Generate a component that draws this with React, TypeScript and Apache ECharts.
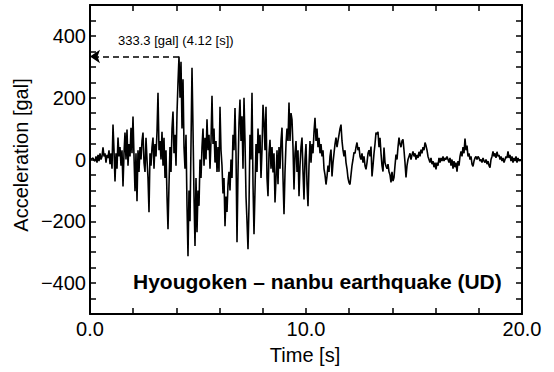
import React, { useEffect, useRef } from "react";
import * as echarts from "echarts";

// sampling interval of the digitised record (s)
const SAMPLE_DT = 1 / 21.6;

// UD acceleration record [gal], one sample per SAMPLE_DT starting at SAMPLE_DT
const accelOnset: number[] = [
  0, 3, 5, -3, -5, 10, -10, 15, -5, 20,
  0, 10, 39, 10, 20, -10, 15, 5, 30, -15,
  20, -30, 113, 30, -71, 20, -30, 71, 10, 40,
  -20, 30, -87, 20, 87, 0, 97, -20, 50, 10,
  103, 20, 139, 10, -103, 20, -135, 30, -40, 40,
  0, 60, 87, -10, -40, 70, 0, -60, -171, 20,
  -20, 40, 71, -30, 50, 10, 90, 216, 30, 60,
  0, 90, -20, 70, -60, 30, -120, -226, -80, 40,
];
const accelStrong: number[] = [
  -40, 100, 155, 20, 80, -20, 150, 250, 333.3, 200,
  316, 100, 260, 40, -30, 80, -150, -313, -100, -200,
  50, 297, 100, -120, -280, -60, -235, -100, -150, 0,
  -60, 40, 100, -20, 70, 0, 130, 30, 80, -30,
  60, 206, 50, 100, -10, 60, -40, 40, -40, 171,
  30, -20, -110, -60, -216, -120, -170, -80, -40, -100,
  0, -60, 80, 30, 167, 20, -268, -40, 120, 194,
  60, 140, -30, 200, 60, -120, -200, -290, -150, 80,
  0, 216, -80, -242, -100, 50, -40, 100, 20, 80,
  -60, 30, 177, 120, 30, 171, -60, -119, 20, 64,
  -30, 40, -42, 20, -139, -60, 30, -80, 40, -30,
  60, 103, -60, -177, -40, 50, 100, 60, 184, 60,
  150, 129, 40, -97, 20, 60, -40, 30, -119, -20,
  40, 71, -40, -129, 0, 50, -80, -151, -20, 60,
];
const accelLate: number[] = [
  -10, 50, 20, 90, 135, 60, 100, 40, 70, 20,
  50, 10, 30, -30, -50, -81, -55, -20, -40, 10,
  32, -55, -10, 20, 50, 71, 40, 60, 80, 100,
  113, 60, 30, 10, 30, -10, -30, -60, -75, -81,
  -50, -20, 0, 23, 20, 40, 55, 30, 40, 10,
  0, 20, -10, 10, -20, -32, -10, 20, 30, 10,
  42, -55, -20, 20, 50, 87, 81, 90, 40, 70,
  20, -20, -39, 39, -10, -22, -30, -15, -40, -50,
  -74, -40, -70, -58, -20, 16, 0, 40, 71, 50,
  40, 60, 65, 30, -10, -58, -20, 0, 10, 20,
];
const accelCoda: number[] = [
  0, 15, 26, 10, 20, 0, 15, 5, 25, 10,
  32, 20, 40, 30, 55, 45, 30, 10, 0, -10,
  5, -15, -5, -25, -10, -32, -10, -20, 5, -10,
  5, -5, 10, -5, 5, 0, 10, 0, -10, 5,
  -20, 0, -30, -5, -25, -10, -39, -5, -20, 10,
  26, 10, 40, 20, 68, 30, 45, 10, 20, 0,
  10, -15, -22, -5, 5, 10, 0, 10, 5, -5,
  0, -10, 5, -5, -10, 0, -15, -5, -20, -26,
  0, 10, 26, 10, 20, 5, 25, 10, 15, 0,
  10, -5, 5, -10, 0, 10, 5, 26, 5, 15,
  -5, 10, -10, 5, -5, 10, -10, 5, -5, 0, -5,
];

const peakTime = 4.12;
const peakAccel = 333.3;
const xLabeled = [0, 10, 20];
const yLabeled = [-400, -200, 0, 200, 400];
const titleText = "Hyougoken \u2013 nanbu earthquake (UD)";
const peakText = "333.3 [gal] (4.12 [s])";
const xName = "Time [s]";
const yName = "Acceleration [gal]";

export default function App() {
  const ref = useRef<HTMLDivElement>(null);
  useEffect(() => {
    const chart = echarts.init(ref.current!, null, { renderer: "svg" });
    const accel = [...accelOnset, ...accelStrong, ...accelLate, ...accelCoda];
    const data = accel.map((v, i) => [+((i + 1) * SAMPLE_DT).toFixed(4), v]);
    const font = "'Liberation Sans', Arial, Helvetica, sans-serif";
    const line = { show: true, onZero: false, lineStyle: { color: "#000", width: 2 } };
    const tick = { show: true, inside: true, length: 6, lineStyle: { color: "#000", width: 1.5 } };
    const xBase = { type: "value", min: 0, max: 20, interval: 2, axisLine: line, axisTick: tick, splitLine: { show: false } };
    const yBase = { type: "value", min: -500, max: 500, interval: 50, axisLine: line, axisTick: tick, splitLine: { show: false } };
    chart.setOption({
      animation: false,
      backgroundColor: "#fff",
      grid: { left: 90, right: 32, top: 5, bottom: 58 },
      xAxis: [
        {
          ...xBase,
          position: "bottom",
          axisLabel: {
            color: "#000",
            fontSize: 20,
            fontFamily: font,
            margin: 5,
            formatter: (v: number) => (xLabeled.includes(v) ? v.toFixed(1) : ""),
          },
        },
        { ...xBase, position: "top", axisLabel: { show: false } },
      ],
      yAxis: [
        {
          ...yBase,
          position: "left",
          axisLabel: {
            color: "#000",
            fontSize: 20,
            fontFamily: font,
            margin: 4,
            formatter: (v: number) =>
              yLabeled.includes(v) ? (v < 0 ? "\u2212" + Math.abs(v) : String(v)) : "",
          },
        },
        { ...yBase, position: "right", axisLabel: { show: false } },
      ],
      series: [
        {
          type: "line",
          data,
          showSymbol: false,
          symbol: "none",
          lineStyle: { color: "#000", width: 1.6 },
          markLine: {
            silent: true,
            symbol: ["none", "arrow"],
            symbolSize: 10,
            label: { show: false },
            lineStyle: { color: "#000", width: 1.5, type: [6, 4] },
            data: [[{ coord: [peakTime, peakAccel] }, { coord: [0, peakAccel] }]],
          },
        },
      ],
      graphic: [
        {
          type: "text",
          x: 118,
          y: 40,
          style: { text: peakText, fill: "#000", font: `13px ${font}`, textAlign: "left", textVerticalAlign: "middle" },
        },
        {
          type: "text",
          x: 133,
          y: 281,
          style: { text: titleText, fill: "#000", font: `bold 21px ${font}`, textAlign: "left", textVerticalAlign: "middle" },
        },
        {
          type: "text",
          x: 21,
          y: 155,
          rotation: Math.PI / 2,
          style: { text: yName, fill: "#000", font: `20px ${font}`, textAlign: "center", textVerticalAlign: "middle" },
        },
        {
          type: "text",
          x: 305,
          y: 355,
          style: { text: xName, fill: "#000", font: `20px ${font}`, textAlign: "center", textVerticalAlign: "middle" },
        },
      ],
    });
    return () => chart.dispose();
  }, []);
  return <div ref={ref} style={{ position: "fixed", left: 0, top: 0, width: 554, height: 372 }} />;
}
